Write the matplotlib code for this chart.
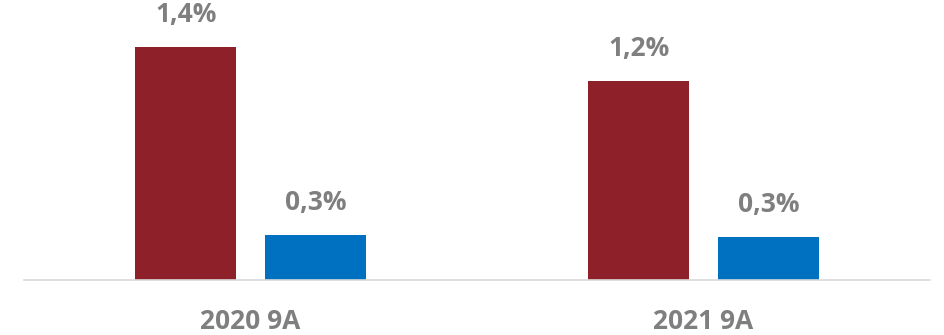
import numpy as np
import matplotlib.pyplot as plt

# -----------------------------------
# DATA
# -----------------------------------

categories = ["2020 9A", "2021 9A"]
red_values = [1.40, 1.196]
blue_values = [0.27, 0.258]

red_color = "#8E2029"
blue_color = "#0070C0"
label_color = "#7F7F7F"

# -----------------------------------
# FIGURE
# -----------------------------------

fig = plt.figure(figsize=(9.45, 3.35), dpi=100)
ax = fig.add_axes([24 / 945, 55 / 335, 906 / 945, 280 / 335])

x = np.arange(len(categories))
width = 0.224
offset = 0.143

bars_red = ax.bar(x - offset, red_values, width, color=red_color)
bars_blue = ax.bar(x + offset, blue_values, width, color=blue_color)

for bars in (bars_red, bars_blue):
    for b in bars:
        val = b.get_height()
        ax.annotate(
            f"{val:.1f}%".replace(".", ","),
            (b.get_x() + b.get_width() / 2, val),
            xytext=(0, 14),
            textcoords="offset points",
            ha="center",
            va="bottom",
            fontsize=19,
            fontweight="bold",
            color=label_color,
            family="Open Sans",
        )

ax.set_xlim(-0.5, 1.5)
ax.set_ylim(0, 1.4 * 280 / 233)

ax.set_xticks(x)
ax.set_xticklabels(categories, fontsize=19, fontweight="bold",
                   color=label_color, family="Open Sans")
ax.tick_params(axis="x", length=0, pad=20)
ax.set_yticks([])

for side in ["left", "right", "top"]:
    ax.spines[side].set_visible(False)
ax.spines["bottom"].set_color("#D9D9D9")
ax.spines["bottom"].set_linewidth(1.2)

fig.savefig("out.png", dpi=100)
